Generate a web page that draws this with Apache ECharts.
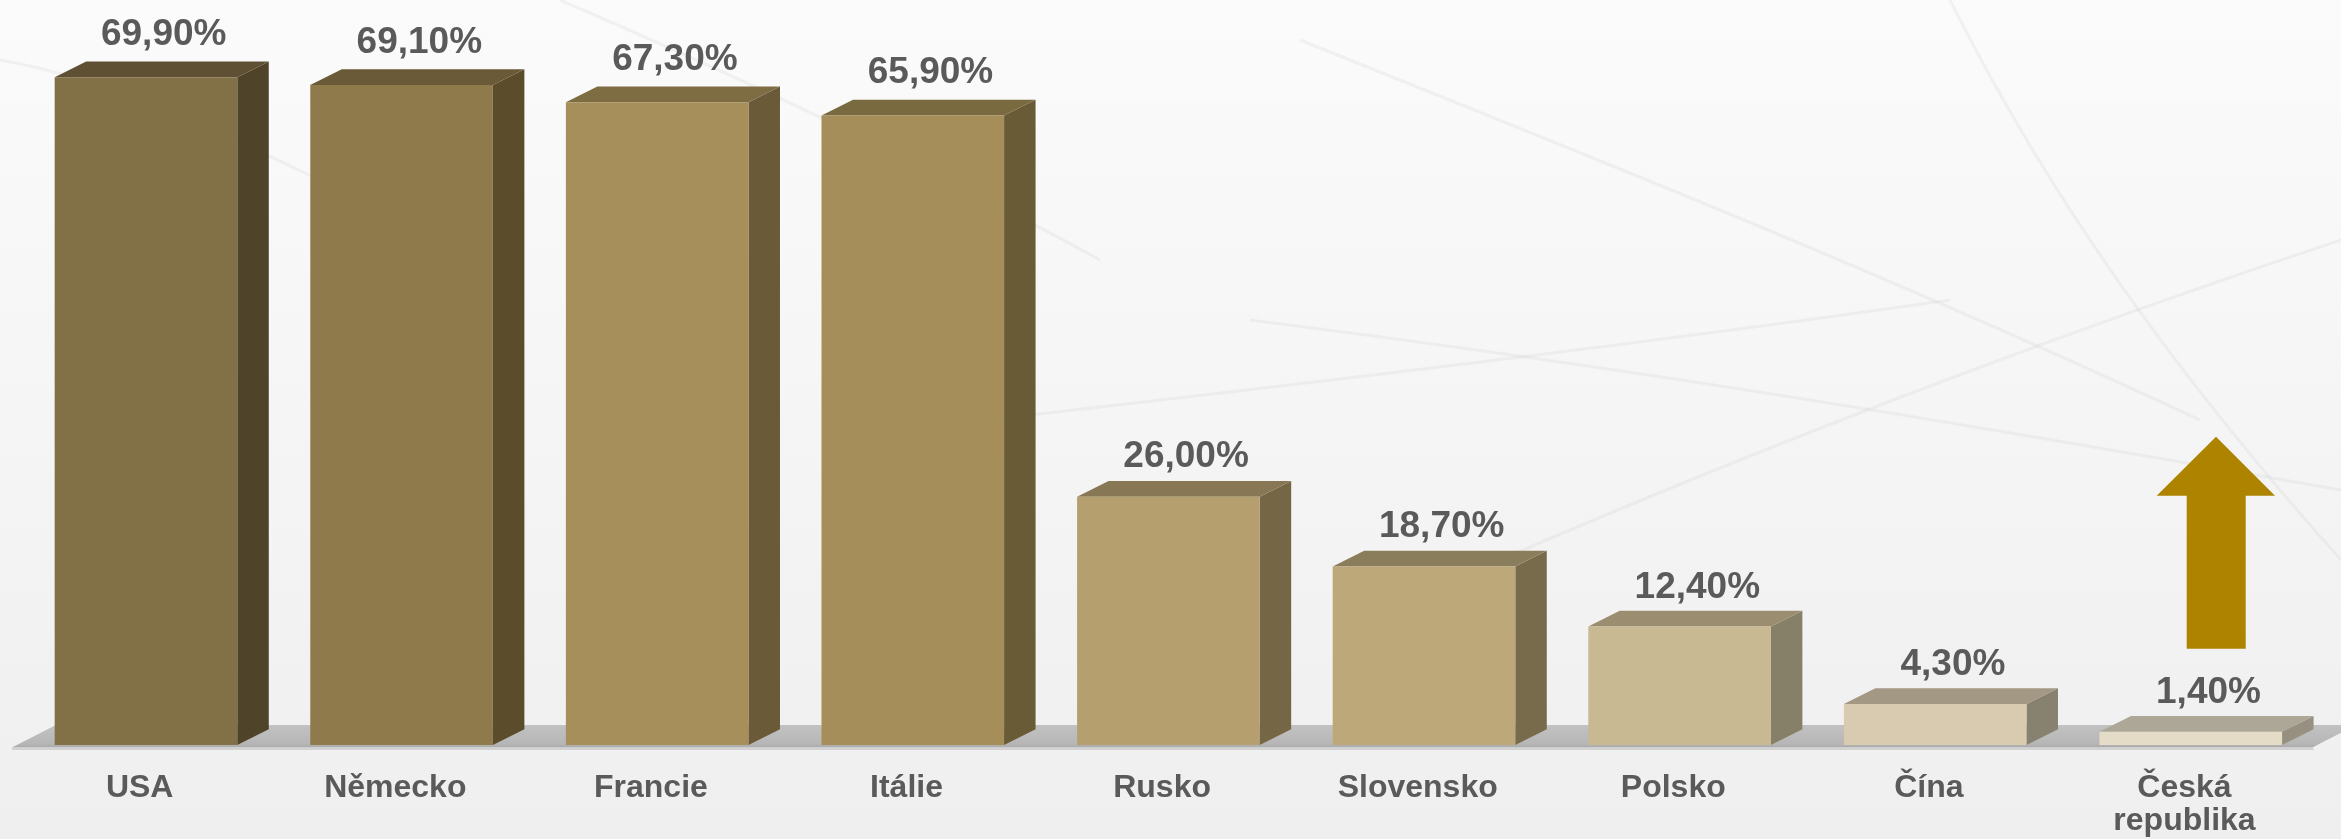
<!DOCTYPE html>
<html>
<head>
<meta charset="utf-8">
<script src="https://cdn.jsdelivr.net/npm/echarts@6/dist/echarts.min.js"></script>
<style>
  html, body { margin: 0; padding: 0; }
  #chart { width: 2341px; height: 839px; }
</style>
</head>
<body>
<div id="chart"></div>
<script>
// Countries and their shares (in %)
const categories = ['USA', 'Německo', 'Francie', 'Itálie', 'Rusko', 'Slovensko', 'Polsko', 'Čína', 'Česká\nrepublika'];
const values = [69.9, 69.1, 67.3, 65.9, 26.0, 18.7, 12.4, 4.3, 1.4];

// Box shading per column: front face, top face, side face
const frontColors = ['#827047', '#8e7a4b', '#a68f5a', '#a68e5a', '#b59f6e', '#bda87a', '#c9b993', '#d8cbb0', '#e5dcc8'];
const topColors   = ['#5f5033', '#6a5a37', '#7e6c42', '#7a6a40', '#877754', '#8a7d5c', '#9b8e70', '#a29883', '#aca797'];
const sideColors  = ['#4f4429', '#5b4c2c', '#6b5a37', '#6a5b37', '#756645', '#776b4b', '#878068', '#878170', '#979080'];

const TEXT = '#5a5a5a';
const FONT = '"Liberation Sans", Arial, sans-serif';

const fmt = v => v.toFixed(2).replace('.', ',') + '%';

const chart = echarts.init(document.getElementById('chart'), null, { renderer: 'canvas' });

// 3D-looking column: front rectangle + top and side parallelograms
function renderBox(params, api) {
  const i = api.value(0);
  const v = api.value(1);
  const base = api.coord([i, 0]);
  const top = api.coord([i, v]);
  const band = api.size([1, 0])[0];
  const x0 = base[0] - band * 0.3326;
  const x1 = x0 + band * 0.7144;
  const dx = band * 0.1232;
  const dy = band * 0.0614;
  const yb = base[1];
  const yt = top[1];
  // labels over taller columns sit a little higher
  const lift = 20 + (yb - yt) * 0.006;
  return {
    type: 'group',
    children: [
      { type: 'polygon', shape: { points: [[x1, yt], [x1 + dx, yt - dy], [x1 + dx, yb - dy], [x1, yb]] },
        style: { fill: sideColors[i] } },
      { type: 'polygon', shape: { points: [[x0, yt], [x1, yt], [x1 + dx, yt - dy], [x0 + dx, yt - dy]] },
        style: { fill: topColors[i] } },
      { type: 'rect', shape: { x: x0, y: yt, width: x1 - x0, height: yb - yt },
        style: { fill: frontColors[i] } },
      { type: 'text', x: base[0] + 24, y: yt - lift,
        style: { text: fmt(v), fill: TEXT, font: 'bold 37px ' + FONT, align: 'center', verticalAlign: 'bottom' } }
    ]
  };
}

// Grey floor plate under the columns
function renderFloor(params, api) {
  const first = api.coord([0, 0]);
  const last = api.coord([categories.length - 1, 0]);
  const band = api.size([1, 0])[0];
  const L = first[0] - band / 2;
  const R = last[0] + band / 2;
  const y0 = first[1];
  const dxf = 44, back = y0 - 20, front = y0 + 2.5;
  return {
    type: 'group',
    children: [
      { type: 'polygon', shape: { points: [[L, front], [L + dxf, back], [R + dxf, back], [R, front]] },
        style: { fill: new echarts.graphic.LinearGradient(0, 0, 0, 1, [
          { offset: 0, color: '#c2c2c2' }, { offset: 0.85, color: '#b6b6b6' }, { offset: 1, color: '#a9a9a9' }]) } },
      { type: 'polygon', shape: { points: [[L, front], [R, front], [R + 2, front + 2.5], [L, front + 2.5]] },
        style: { fill: '#d2d2d2' } }
    ]
  };
}

// Faint background strokes
const bgLines = [
  [[0, 60], [120, 80], [260, 150], [420, 230]],
  [[560, 0], [700, 60], [900, 150], [1100, 260]],
  [[1300, 40], [1600, 160], [1900, 280], [2200, 420]],
  [[1500, 560], [1800, 430], [2100, 320], [2341, 240]],
  [[1250, 320], [1650, 370], [2000, 430], [2341, 490]],
  [[1950, 0], [2050, 200], [2180, 380], [2341, 560]],
  [[900, 430], [1250, 390], [1600, 350], [1950, 300]]
].map(pts => ({
  type: 'bezierCurve', silent: true, z: -10,
  shape: { x1: pts[0][0], y1: pts[0][1], cpx1: pts[1][0], cpy1: pts[1][1], cpx2: pts[2][0], cpy2: pts[2][1], x2: pts[3][0], y2: pts[3][1] },
  style: { stroke: 'rgba(205,205,205,0.22)', lineWidth: 3, fill: null }
}));

chart.setOption({
  backgroundColor: new echarts.graphic.LinearGradient(0, 0, 0, 1, [
    { offset: 0, color: '#fbfbfb' }, { offset: 1, color: '#f0efef' }]),
  animation: false,
  grid: { left: 11.9, right: 28.7, top: 28.6, bottom: 94 },
  xAxis: {
    type: 'category',
    data: categories,
    axisLine: { show: false },
    axisTick: { show: false },
    splitLine: { show: false },
    axisLabel: { interval: 0, margin: 27, color: TEXT, fontSize: 32, fontWeight: 'bold', fontFamily: FONT, lineHeight: 33 }
  },
  yAxis: { type: 'value', min: 0, max: 75, show: false, splitLine: { show: false } },
  graphic: bgLines.concat([
    { type: 'polygon', z: 10,
      shape: { points: [[2156.7, 495.7], [2216, 436.7], [2275, 495.7], [2245.7, 495.7], [2245.7, 648.7], [2186.7, 648.7], [2186.7, 495.7]] },
      style: { fill: '#ae8300' } }
  ]),
  series: [
    { type: 'custom', name: 'floor', renderItem: renderFloor, data: [[0, 0]], z: 1, silent: true },
    { type: 'custom', name: 'podíl', renderItem: renderBox, z: 2,
      encode: { x: 0, y: 1 },
      data: values.map((v, i) => [i, v]) }
  ]
});
</script>
</body>
</html>
